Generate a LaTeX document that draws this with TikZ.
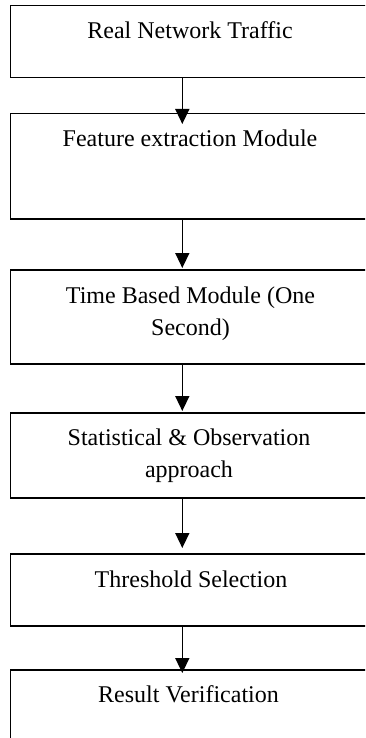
\documentclass[tikz,border=0pt]{standalone}
\usepackage{fontspec}
\setmainfont{Liberation Serif}
\usetikzlibrary{arrows.meta}
\begin{document}
\begin{tikzpicture}[x=1pt,y=-1pt,
  boxline/.style={draw=black,line width=1.5pt},
  lbl/.style={anchor=base,inner sep=0pt,font=\fontsize{24}{32}\selectfont},
  flow/.style={draw=black,line width=1.5pt,-{Triangle[length=15pt,width=14pt]}}]
\useasboundingbox (0,0) rectangle (365,738);
\clip (0,0) rectangle (365,738);
\fill[white] (0,0) rectangle (365,738);
\coordinate (ax) at (182.3,0);
% boxes
\node[boxline,anchor=north west,minimum width=380pt,minimum height=72pt,inner sep=0pt] (b1) at (9.5,5) {};
\node[boxline,anchor=north west,minimum width=380pt,minimum height=105pt,inner sep=0pt] (b2) at (9.5,113) {};
\node[boxline,anchor=north west,minimum width=380pt,minimum height=94pt,inner sep=0pt] (b3) at (9.5,269) {};
\node[boxline,anchor=north west,minimum width=380pt,minimum height=85pt,inner sep=0pt] (b4) at (9.5,412) {};
\node[boxline,anchor=north west,minimum width=380pt,minimum height=72pt,inner sep=0pt] (b5) at (9.5,553) {};
\node[boxline,anchor=north west,minimum width=380pt,minimum height=120pt,inner sep=0pt] (b6) at (9.5,669) {};
% labels
\node[lbl] (t1) at (190,38.5) {Real Network Traffic};
\node[lbl] (t2) at (190,147) {Feature extraction Module};
\node[lbl] (t3) at (190.5,303) {\parbox[t]{300pt}{\centering Time Based Module (One\\ Second)}};
\node[lbl] (t4) at (189,445) {\parbox[t]{300pt}{\centering Statistical \& Observation\\ approach}};
\node[lbl] (t5) at (191,587) {Threshold Selection};
\node[lbl] (t6) at (188.5,702) {Result Verification};
% arrows
\draw[flow] (b1.south -| ax) -- ([yshift=-11pt]b2.north -| ax);
\draw[flow] (b2.south -| ax) -- ([yshift=1pt]b3.north -| ax);
\draw[flow] (b3.south -| ax) -- ([yshift=1pt]b4.north -| ax);
\draw[flow] (b4.south -| ax) -- ([yshift=5pt]b5.north -| ax);
\draw[flow] (b5.south -| ax) -- ([yshift=-4pt]b6.north -| ax);
\end{tikzpicture}
\end{document}
